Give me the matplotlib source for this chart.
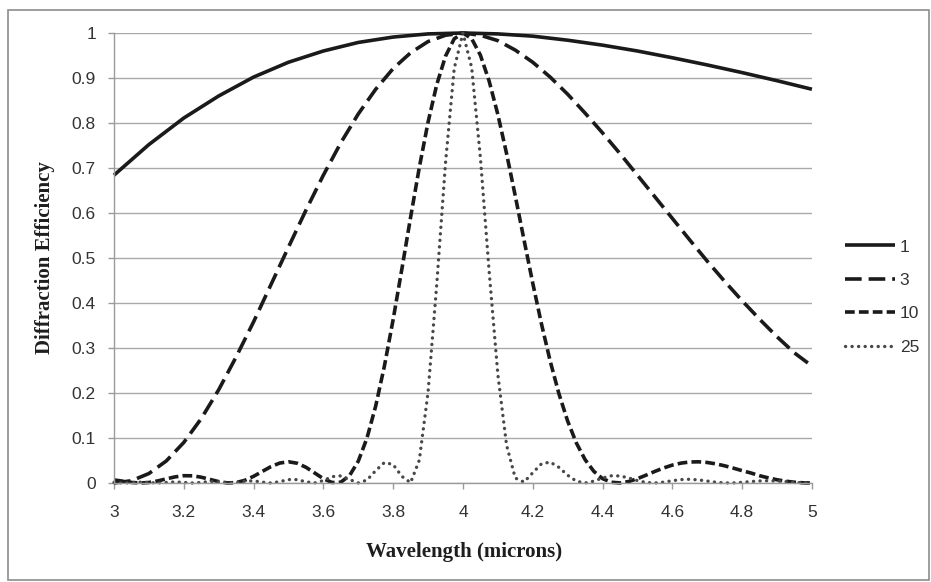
import numpy as np
import matplotlib
matplotlib.use("Agg")
import matplotlib.pyplot as plt
from matplotlib.patches import Rectangle
from matplotlib.ticker import FuncFormatter, MultipleLocator

plt.rcParams['lines.scale_dashes'] = False

# wavelength samples (microns)
wl_coarse = np.linspace(3.0, 5.0, 21)   # step 0.1
wl_mid = np.linspace(3.0, 5.0, 41)      # step 0.05
wl_fine = np.linspace(3.0, 5.0, 81)     # step 0.025

# diffraction efficiency, one list per harmonic number
eff_1 = [0.684, 0.752, 0.811, 0.860, 0.902, 0.935, 0.960, 0.979, 0.991, 0.998,
         1.000, 0.998, 0.993, 0.984, 0.973, 0.960, 0.945, 0.929, 0.912, 0.894,
         0.875]

eff_3 = [0.000, 0.005, 0.021, 0.049, 0.090, 0.143, 0.207, 0.280, 0.358, 0.441,
         0.524, 0.606, 0.684, 0.756, 0.820, 0.875, 0.921, 0.956, 0.981, 0.995,
         1.000, 0.995, 0.983, 0.962, 0.935, 0.902, 0.864, 0.822, 0.778, 0.732,
         0.684, 0.636, 0.588, 0.540, 0.493, 0.448, 0.405, 0.364, 0.325, 0.289,
         0.260]

eff_10 = [0.0068, 0.0041, 0.0013, 0.0000, 0.0011, 0.0045, 0.0092, 0.0136, 0.0162, 0.0160,
          0.0129, 0.0080, 0.0031, 0.0002, 0.0009, 0.0060, 0.0148, 0.0257, 0.0365, 0.0443,
          0.0472, 0.0439, 0.0350, 0.0224, 0.0096, 0.0011, 0.0018, 0.0164, 0.0483, 0.0998,
          0.1710, 0.2600, 0.3633, 0.4755, 0.5904, 0.7013, 0.8016, 0.8855, 0.9484, 0.9871,
          1.0000, 0.9874, 0.9508, 0.8934, 0.8190, 0.7321, 0.6377, 0.5403, 0.4443, 0.3536,
          0.2709, 0.1985, 0.1377, 0.0889, 0.0519, 0.0260, 0.0097, 0.0017, 0.0001, 0.0033,
          0.0096, 0.0175, 0.0258, 0.0334, 0.0398, 0.0442, 0.0467, 0.0471, 0.0456, 0.0425,
          0.0382, 0.0330, 0.0274, 0.0223, 0.0162, 0.0114, 0.0072, 0.0040, 0.0017, 0.0004,
          0.0000]

eff_25 = [0.0011, 0.0001, 0.0006, 0.0018, 0.0010, 0.0000, 0.0011, 0.0024, 0.0013, 0.0000,
          0.0013, 0.0033, 0.0024, 0.0002, 0.0009, 0.0040, 0.0048, 0.0019, 0.0000, 0.0030,
          0.0076, 0.0075, 0.0026, 0.0001, 0.0054, 0.0141, 0.0159, 0.0078, 0.0002, 0.0065,
          0.0274, 0.0456, 0.0410, 0.0148, 0.0007, 0.0508, 0.2013, 0.4418, 0.7110, 0.9213,
          1.0000, 0.9232, 0.7234, 0.4711, 0.2414, 0.0841, 0.0110, 0.0021, 0.0227, 0.0426,
          0.0465, 0.0348, 0.0173, 0.0040, 0.0000, 0.0042, 0.0112, 0.0159, 0.0157, 0.0113,
          0.0054, 0.0011, 0.0001, 0.0019, 0.0051, 0.0076, 0.0083, 0.0069, 0.0043, 0.0017,
          0.0002, 0.0002, 0.0015, 0.0032, 0.0046, 0.0050, 0.0044, 0.0031, 0.0015, 0.0004,
          0.0000]

fig = plt.figure(figsize=(9.31, 5.82), dpi=100)
ax = fig.add_axes([0.1224, 0.1701, 0.7497, 0.7732])

lw = 2.6
ax.plot(wl_coarse, eff_1, color='#1a1a1a', lw=lw, label='1', clip_on=False,
        solid_capstyle='butt')
ax.plot(wl_mid, eff_3, color='#1a1a1a', lw=lw, label='3', clip_on=False,
        linestyle=(0, (12, 5)), dash_capstyle='butt')
ax.plot(wl_fine, eff_10, color='#1a1a1a', lw=lw, label='10', clip_on=False,
        linestyle=(0, (7, 3)), dash_capstyle='butt')
ax.plot(wl_fine, eff_25, color='#484848', lw=2.4, label='25', clip_on=False,
        linestyle=(0, (0.1, 4.6)), dash_capstyle='round')

ax.set_xlim(3, 5)
ax.set_ylim(0, 1)
ax.xaxis.set_major_locator(MultipleLocator(0.2))
ax.yaxis.set_major_locator(MultipleLocator(0.1))
fmt = FuncFormatter(lambda v, p: '%g' % round(v, 2))
ax.xaxis.set_major_formatter(fmt)
ax.yaxis.set_major_formatter(fmt)

ax.grid(axis='y', color='#a9a9a9', lw=1.0)
ax.set_axisbelow(True)
for s in ['top', 'right']:
    ax.spines[s].set_visible(False)
for s in ['left', 'bottom']:
    ax.spines[s].set_color('#9a9a9a')
    ax.spines[s].set_linewidth(1.0)

ax.tick_params(axis='both', direction='out', length=4, width=1.0,
               color='#9a9a9a', labelcolor='#333333', labelsize=12.5)
ax.tick_params(axis='x', pad=12)
ax.tick_params(axis='y', pad=9)
for lab in ax.get_xticklabels() + ax.get_yticklabels():
    lab.set_fontfamily('Liberation Sans')

fig.text(45 / 931, 1 - 258 / 582, 'Diffraction Efficiency', rotation=90,
         ha='center', va='center', fontsize=15, fontweight='bold',
         family='Liberation Serif', color='#1e1e1e')
fig.text(464 / 931, 1 - 552 / 582, 'Wavelength (microns)',
         ha='center', va='center', fontsize=15, fontweight='bold',
         family='Liberation Serif', color='#1e1e1e')

leg = ax.legend(loc='center left', bbox_to_anchor=(845 / 931, 1 - 297 / 582),
                bbox_transform=fig.transFigure, frameon=False, borderpad=0,
                borderaxespad=0, handlelength=2.9, handletextpad=0.25,
                labelspacing=1.05, prop={'family': 'Liberation Sans', 'size': 12.5})
for t in leg.get_texts():
    t.set_color('#333333')

# chart-area border
fig.add_artist(Rectangle((8 / 931, 2 / 582), 921 / 931, 570 / 582,
                         transform=fig.transFigure, fill=False,
                         edgecolor='#8c8c8c', lw=1.2))

fig.savefig('out.png', dpi=100)
